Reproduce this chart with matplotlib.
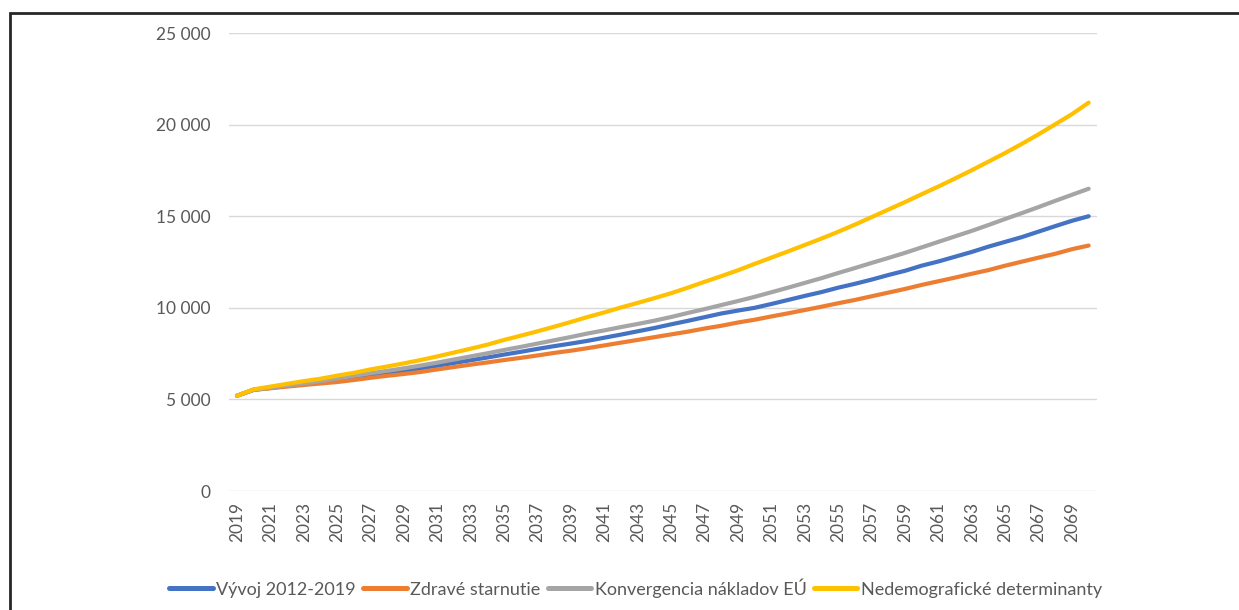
import matplotlib
matplotlib.use("Agg")
import matplotlib.pyplot as plt
from matplotlib.patches import Rectangle
from matplotlib.ticker import FuncFormatter

years = list(range(2019, 2071))

vyvoj = [5200, 5530, 5630, 5740, 5850, 5950, 6050, 6170, 6300, 6420, 6550, 6700,
         6840, 6990, 7140, 7290, 7450, 7600, 7760, 7910, 8050, 8200, 8370, 8540,
         8720, 8900, 9100, 9290, 9490, 9690, 9850, 10000, 10210, 10430, 10650, 10860,
         11100, 11310, 11540, 11790, 12020, 12300, 12530, 12790, 13050, 13340, 13600,
         13860, 14160, 14460, 14750, 15000]

zdrave = [5200, 5520, 5610, 5700, 5790, 5870, 5950, 6060, 6180, 6290, 6390, 6500,
          6640, 6770, 6900, 7020, 7150, 7270, 7400, 7540, 7660, 7800, 7950, 8100,
          8250, 8400, 8550, 8700, 8870, 9020, 9200, 9350, 9530, 9700, 9880, 10060,
          10250, 10430, 10630, 10830, 11030, 11250, 11450, 11650, 11860, 12060, 12300,
          12520, 12740, 12950, 13200, 13400]

konvergencia = [5200, 5530, 5640, 5760, 5880, 6010, 6150, 6290, 6430, 6560, 6700, 6850,
                7010, 7180, 7350, 7520, 7700, 7870, 8050, 8230, 8410, 8600, 8770, 8950,
                9120, 9300, 9500, 9720, 9930, 10150, 10370, 10600, 10850, 11100, 11360,
                11620, 11900, 12170, 12450, 12720, 13000, 13300, 13600, 13900, 14200,
                14520, 14850, 15170, 15500, 15840, 16170, 16500]

nedemo = [5200, 5550, 5700, 5850, 6000, 6130, 6300, 6450, 6640, 6800, 6970, 7150,
          7350, 7560, 7770, 7990, 8250, 8480, 8720, 8970, 9230, 9500, 9750, 10020,
          10270, 10530, 10800, 11100, 11420, 11730, 12050, 12400, 12740, 13080, 13430,
          13780, 14150, 14540, 14950, 15360, 15770, 16200, 16620, 17060, 17510, 17980,
          18450, 18950, 19470, 20020, 20570, 21200]

labels = ["Vývoj 2012-2019", "Zdravé starnutie", "Konvergencia nákladov EÚ",
          "Nedemografické determinanty"]
colors = ["#4472C4", "#ED7D31", "#A5A5A5", "#FFC000"]
series = [vyvoj, zdrave, konvergencia, nedemo]

plt.rcParams['font.family'] = ['Lato', 'DejaVu Sans']

fig = plt.figure(figsize=(12.39, 6.10), dpi=100)
ax = fig.add_axes([0.1845, 0.195, 0.7009, 0.7509])

x = list(range(len(years)))
for s, c, l in zip(series, colors, labels):
    ax.plot(x, s, color=c, lw=3.0, label=l, solid_capstyle='round')

ax.set_xlim(-0.5, len(years) - 0.5)
ax.set_ylim(0, 25000)
ax.set_yticks(range(0, 25001, 5000))
ax.yaxis.set_major_formatter(FuncFormatter(lambda v, p: f"{int(v):,}".replace(",", " ")))
ax.set_xticks(x[::2])
ax.set_xticklabels([str(y) for y in years[::2]], rotation=90)
ax.grid(axis='y', color='#D9D9D9', lw=1)
ax.set_axisbelow(True)
for sp in ax.spines.values():
    sp.set_visible(False)
ax.tick_params(axis='both', length=0, labelsize=12.5, labelcolor='#595959')
ax.tick_params(axis='y', pad=13)
ax.tick_params(axis='x', pad=8)

leg = fig.legend(loc='center', bbox_to_anchor=(0.513, 0.036), ncol=4, frameon=False,
                 fontsize=13, handlelength=2.4, handletextpad=0.2, columnspacing=0.4,
                 labelcolor='#595959')
for h in leg.get_lines():
    h.set_linewidth(3.6)

fig.patches.append(Rectangle((9.5 / 1239, -0.1), 1.2, 1 - 13.5 / 610 + 0.1,
                             transform=fig.transFigure, fill=False,
                             edgecolor='#262626', lw=2))

fig.savefig("out.png", dpi=100)
